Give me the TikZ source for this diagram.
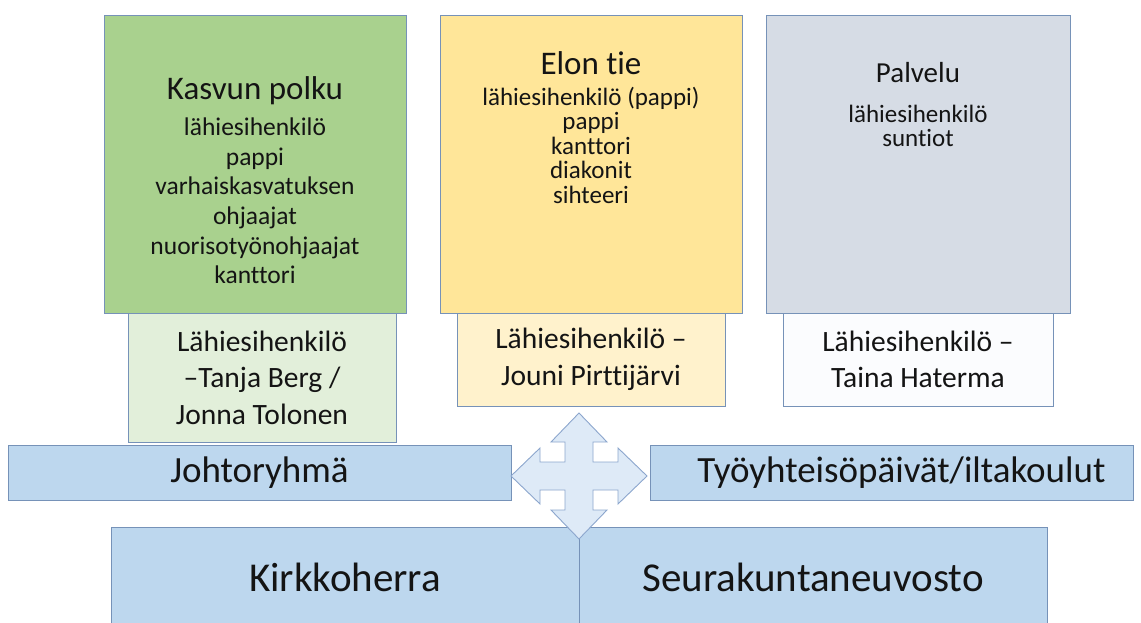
\documentclass[tikz,border=0pt]{standalone}
\usepackage{fontspec}
\setmainfont{Carlito}[Ligatures={NoCommon}]
\usetikzlibrary{positioning}
\definecolor{kasvugreen}{RGB}{169,209,142}
\definecolor{kasvulight}{RGB}{226,239,218}
\definecolor{eloyellow}{RGB}{255,230,153}
\definecolor{elolight}{RGB}{255,242,204}
\definecolor{palvelugray}{RGB}{214,220,229}
\definecolor{palvelulight}{RGB}{251,252,254}
\definecolor{barblue}{RGB}{189,215,238}
\definecolor{edgeblue}{RGB}{118,146,184}
\definecolor{crossfill}{RGB}{222,234,247}
\definecolor{crossedge}{RGB}{140,166,205}
\definecolor{inktext}{RGB}{20,20,20}

\tikzset{
    areabox/.style={draw=edgeblue, line width=0.9pt, minimum width=302pt, minimum height=298pt, inner sep=0pt},
    leadbox/.style={draw=edgeblue, line width=0.9pt, minimum width=268pt, minimum height=93pt, inner sep=0pt,
        align=center, text=inktext, font=\fontsize{29.5}{36.5}\selectfont},
    barbox/.style={draw=edgeblue, line width=0.9pt, fill=barblue, minimum height=55pt, inner sep=0pt,
        text=inktext, font=\fontsize{37}{44}\selectfont},
    basebox/.style={draw=edgeblue, line width=0.9pt, fill=barblue, minimum width=468pt, minimum height=100pt, inner sep=0pt,
        text=inktext, font=\fontsize{41}{49}\selectfont},
    areatitle/.style={inner sep=0pt, text=inktext, font=\fontsize{33}{39}\selectfont},
    arealist/.style={inner sep=0pt, align=center, text=inktext},
    crossarrow/.style={draw=crossedge, line width=0.9pt, fill=crossfill, line join=miter}
}

\begin{document}
\begin{tikzpicture}[x=1pt, y=-1pt]
    \useasboundingbox (0,0) rectangle (1141,623);

    % Three areas of work
    \node[areabox, fill=kasvugreen] (kasvu) at (255,164) {};
    \node[areabox, fill=eloyellow] (elo) at (591,164) {};
    \node[areabox, fill=palvelugray, minimum width=304pt] (palvelu) at (918,164) {};

    \node[areatitle, below=62pt of kasvu.north] (kasvutitle) {Kasvun polku};
    \node[arealist, font=\fontsize{25.5}{29.7}\selectfont, below=103pt of kasvu.north] (kasvulist)
        {lähiesihenkilö\\pappi\\varhaiskasvatuksen\\ohjaajat\\nuorisotyönohjaajat\\kanttori};

    \node[areatitle, below=37pt of elo.north] (elotitle) {Elon tie};
    \node[arealist, font=\fontsize{25}{24.5}\selectfont, below=72pt of elo.north] (elolist)
        {lähiesihenkilö (pappi)\\pappi\\kanttori\\diakonit\\sihteeri};

    \node[areatitle, font=\fontsize{29}{35}\selectfont, below=48pt of palvelu.north] (palvelutitle) {Palvelu};
    \node[arealist, font=\fontsize{25}{24.5}\selectfont, below=90pt of palvelu.north] (palvelulist)
        {lähiesihenkilö\\suntiot};

    % Contact persons under each area
    \node[leadbox, fill=kasvulight, minimum height=129pt] (kasvulead) at (262,377.5)
        {Lähiesihenkilö\\–Tanja Berg /\\Jonna Tolonen};
    \node[leadbox, fill=elolight] (elolead) at (591,359.5)
        {Lähiesihenkilö –\\Jouni Pirttijärvi};
    \node[leadbox, fill=palvelulight, minimum width=270pt] (palvelulead) at (918,359.5)
        {Lähiesihenkilö –\\Taina Haterma};

    % Bars
    \node[barbox, minimum width=503pt] (johto) at (259.5,472.5) {Johtoryhmä};
    \node[barbox, minimum width=483pt] (tyo) at (891.5,472.5) {\hspace*{20pt}Työyhteisöpäivät/iltakoulut};

    % Base
    \node[basebox] (kirkko) at (345,577) {Kirkkoherra};
    \node[basebox] (seura) at (813,577) {Seurakuntaneuvosto};

    % Four-way arrow in the middle
    \coordinate (hub) at (579,476);
    \draw[crossarrow, shift={(hub)}]
        (0,-63) -- (28,-34) -- (14,-34) -- (14,-14) -- (39,-14) -- (39,-28) -- (68,0)
        -- (39,28) -- (39,14) -- (14,14) -- (14,34) -- (28,34) -- (0,63)
        -- (-28,34) -- (-14,34) -- (-14,14) -- (-39,14) -- (-39,28) -- (-68,0)
        -- (-39,-28) -- (-39,-14) -- (-14,-14) -- (-14,-34) -- (-28,-34) -- cycle;
\end{tikzpicture}
\end{document}
